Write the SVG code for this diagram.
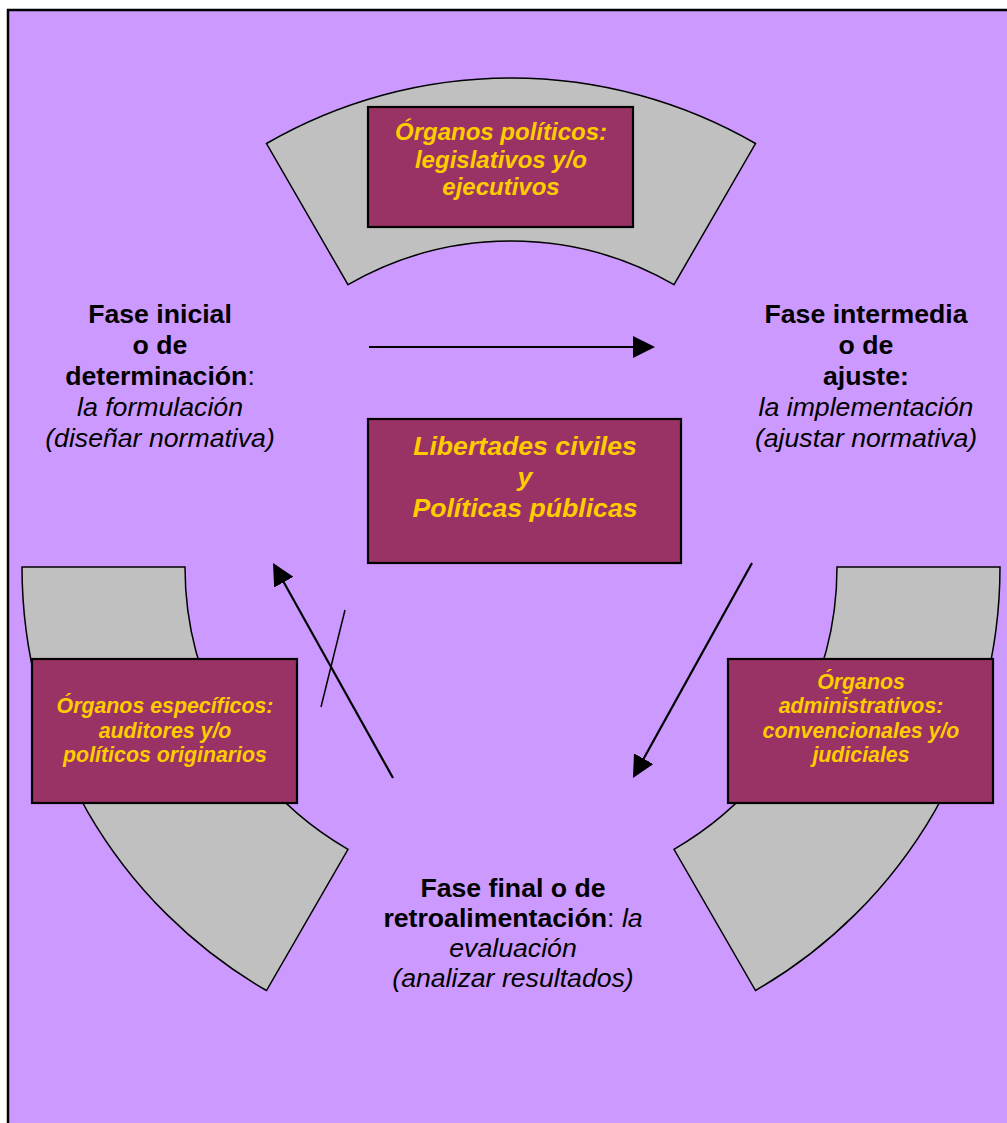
<svg xmlns="http://www.w3.org/2000/svg" width="1007" height="1123" viewBox="0 0 1007 1123">
<defs>
<style>
.arc{fill:#C0C0C0;stroke:#000;stroke-width:1.5}
.box{fill:#993366;stroke:#000;stroke-width:2.2}
.bt{font-family:"Liberation Sans",Arial,sans-serif;font-weight:bold;font-style:italic;fill:#FFCC00;text-anchor:middle}
.ph{font-family:"Liberation Sans",Arial,sans-serif;font-size:26.67px;fill:#000;text-anchor:middle}
.b{font-weight:bold}
.i{font-style:italic}
.con{stroke:#000;stroke-width:2.2;fill:none}
</style>
<marker id="ah" markerUnits="userSpaceOnUse" viewBox="0 0 22 22" refX="12" refY="11" markerWidth="22" markerHeight="22" orient="auto">
<path d="M0 0 L22 11 L0 22 Z" fill="#000"/>
</marker>
</defs>
<rect id="frame" x="8" y="10" width="1010" height="1130" fill="#CC99FF" stroke="#000" stroke-width="2.5"/>
<g id="arc-top"><path class="arc" d="M266.5 143.5 A489 489 0 0 1 755.5 143.5 L674 284.7 A326 326 0 0 0 348 284.7 Z"/></g>
<g id="arc-left"><path class="arc" d="M22 567 L185 567 A326 326 0 0 0 348 849.3 L266.5 990.5 A489 489 0 0 1 22 567 Z"/></g>
<g id="arc-right"><path class="arc" d="M837 567 L1000 567 A489 489 0 0 1 755.5 990.5 L674 849.3 A326 326 0 0 0 837 567 Z"/></g>
<g id="node-politicos">
<rect class="box" x="368" y="107" width="265" height="120"/>
<text class="bt" font-size="24" x="501" y="140">Órganos políticos:</text>
<text class="bt" font-size="24" x="501" y="167.5">legislativos y/o</text>
<text class="bt" font-size="24" x="501" y="195">ejecutivos</text>
</g>
<g id="node-centro">
<rect class="box" x="368" y="419" width="313" height="144"/>
<text class="bt" font-size="26.67" x="525" y="455">Libertades civiles</text>
<text class="bt" font-size="26.67" x="525" y="486">y</text>
<text class="bt" font-size="26.67" x="525" y="517">Políticas públicas</text>
</g>
<g id="node-especificos">
<rect class="box" x="32" y="659" width="265" height="144"/>
<text class="bt" font-size="21.33" x="165" y="713">Órganos específicos:</text>
<text class="bt" font-size="21.33" x="165" y="737.5">auditores y/o</text>
<text class="bt" font-size="21.33" x="165" y="762">políticos originarios</text>
</g>
<g id="node-administrativos">
<rect class="box" x="728" y="659" width="265" height="144"/>
<text class="bt" font-size="21.33" x="861" y="688.5">Órganos</text>
<text class="bt" font-size="21.33" x="861" y="713">administrativos:</text>
<text class="bt" font-size="21.33" x="861" y="737.5">convencionales y/o</text>
<text class="bt" font-size="21.33" x="861" y="762">judiciales</text>
</g>
<g id="fase-inicial">
<text class="ph b" x="160" y="323">Fase inicial</text>
<text class="ph b" x="160" y="354">o de</text>
<text class="ph" x="160" y="385"><tspan class="b">determinación</tspan>:</text>
<text class="ph i" x="160" y="416">la formulación</text>
<text class="ph i" x="160" y="447">(diseñar normativa)</text>
</g>
<g id="fase-intermedia">
<text class="ph b" x="866" y="323">Fase intermedia</text>
<text class="ph b" x="866" y="354">o de</text>
<text class="ph b" x="866" y="385">ajuste:</text>
<text class="ph i" x="866" y="416">la implementación</text>
<text class="ph i" x="866" y="447">(ajustar normativa)</text>
</g>
<g id="fase-final">
<text class="ph b" x="513" y="897">Fase final o de</text>
<text class="ph" x="513" y="927"><tspan class="b">retroalimentación</tspan>: <tspan class="i">la</tspan></text>
<text class="ph i" x="513" y="957">evaluación</text>
<text class="ph i" x="513" y="987">(analizar resultados)</text>
</g>
<g id="connectors">
<line class="con" x1="369" y1="347" x2="645" y2="347" marker-end="url(#ah)"/>
<line class="con" x1="752" y1="563" x2="637.8" y2="769.2" marker-end="url(#ah)"/>
<line class="con" x1="393" y1="778" x2="277.9" y2="571.7" marker-end="url(#ah)"/>
<line stroke="#000" stroke-width="1.5" x1="345" y1="610" x2="321" y2="707"/>
</g>
</svg>
